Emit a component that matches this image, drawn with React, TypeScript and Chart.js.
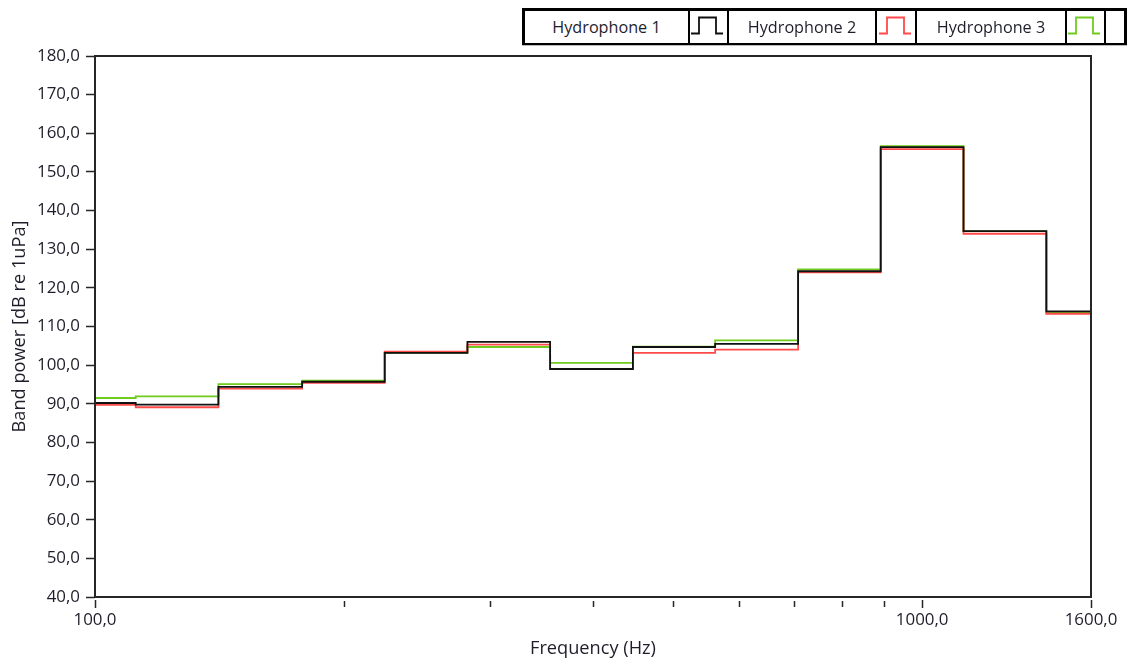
import React, { useEffect, useRef } from "react";
import { Chart, registerables } from "chart.js";

Chart.register(...registerables);

// Third-octave band centres (Hz) and band edges (Hz) as drawn on the chart
const bandCenters = [100, 125, 160, 200, 250, 315, 400, 500, 630, 800, 1000, 1250, 1600];
const bandStarts = [100, 112, 141, 178, 224, 282, 355, 447, 562, 708, 891, 1122, 1413];
const axisEnd = 1600;

// Band power (dB re 1uPa)
const hydrophone1 = [90.2, 89.8, 94.4, 95.7, 103.2, 106.0, 99.0, 104.7, 105.5, 124.3, 156.4, 134.7, 113.9];
const hydrophone2 = [89.7, 89.1, 93.9, 95.4, 103.5, 105.3, 99.0, 103.2, 104.0, 124.0, 155.9, 134.0, 113.3];
const hydrophone3 = [91.5, 91.9, 95.1, 96.0, 103.2, 104.7, 100.6, 104.8, 106.4, 124.8, 156.7, 134.7, 113.6];

const seriesNames = ["Hydrophone 1", "Hydrophone 2", "Hydrophone 3"];
const seriesColors = ["#111111", "#ff4a4a", "#6fcc1e"];

const xLabelTicks = [100, 1000, 1600];
const xMinorTicks = [200, 300, 400, 500, 600, 700, 800, 900];
const yMin = 40;
const yMax = 180;
const yStep = 10;

const FONT = "'Open Sans', 'Liberation Sans', sans-serif";
const TEXT = "#1e1e2a";

const fmt = (v: number) => Number(v).toFixed(1).replace(".", ",");

function stepPoints(values: number[]) {
  const pts = bandStarts.map((x, i) => ({ x, y: values[i] }));
  pts.push({ x: axisEnd, y: values[values.length - 1] });
  return pts;
}

const framePlugin = {
  id: "frameAndTicks",
  afterDraw(chart: any) {
    const { ctx, chartArea, scales } = chart;
    const xs = scales.x;
    ctx.save();
    ctx.strokeStyle = "#262626";
    ctx.lineWidth = 2;
    ctx.strokeRect(chartArea.left, chartArea.top, chartArea.right - chartArea.left, chartArea.bottom - chartArea.top);
    ctx.lineWidth = 1.5;
    ctx.strokeStyle = "#262626";
    const b = chartArea.bottom;
    xLabelTicks.forEach((v) => {
      const px = Math.round(xs.getPixelForValue(v)) + 0.5;
      ctx.beginPath();
      ctx.moveTo(px, b + 3);
      ctx.lineTo(px, b + 11);
      ctx.stroke();
    });
    xMinorTicks.forEach((v) => {
      const px = Math.round(xs.getPixelForValue(v)) + 0.5;
      ctx.beginPath();
      ctx.moveTo(px, b + 4);
      ctx.lineTo(px, b + 10);
      ctx.stroke();
    });
    ctx.restore();
  },
};

function StepIcon({ color }: { color: string }) {
  return (
    <svg width="37" height="32" style={{ display: "block" }}>
      <polyline
        points="1,22.5 9,22.5 9,6.5 26,6.5 26,22.5 33,22.5"
        fill="none"
        stroke={color}
        strokeWidth="1.8"
      />
    </svg>
  );
}

function Legend() {
  const cells = [
    { type: "t", w: 163, i: 0 },
    { type: "i", w: 37, i: 0 },
    { type: "t", w: 146, i: 1 },
    { type: "i", w: 38, i: 1 },
    { type: "t", w: 148, i: 2 },
    { type: "i", w: 37, i: 2 },
    { type: "e", w: 18, i: 0 },
  ];
  return (
    <div
      style={{
        position: "absolute",
        left: 522,
        top: 8,
        width: 605,
        height: 37,
        background: "#000",
        boxSizing: "border-box",
        padding: "3px 3px 2px 3px",
        display: "flex",
        gap: 2,
        boxShadow: "0 1px 0 #bbb",
      }}
    >
      {cells.map((c, k) => (
        <div
          key={k}
          style={{
            width: c.w,
            height: 32,
            background: "#fff",
            display: "flex",
            alignItems: "center",
            justifyContent: "center",
            fontFamily: FONT,
            fontSize: 16.2,
            color: TEXT,
            whiteSpace: "nowrap",
            overflow: "hidden",
          }}
        >
          {c.type === "t" ? seriesNames[c.i] : c.type === "i" ? <StepIcon color={seriesColors[c.i]} /> : null}
        </div>
      ))}
    </div>
  );
}

export default function App() {
  const canvasRef = useRef<HTMLCanvasElement | null>(null);

  useEffect(() => {
    if (!canvasRef.current) return;
    const allSeries = [hydrophone1, hydrophone2, hydrophone3];
    const chart = new Chart(canvasRef.current, {
      type: "line",
      data: {
        datasets: allSeries.map((vals, i) => ({
          label: seriesNames[i],
          data: stepPoints(vals),
          borderColor: seriesColors[i],
          backgroundColor: seriesColors[i],
          borderWidth: 1.8,
          pointRadius: 0,
          stepped: "before" as const,
          fill: false,
        })),
      },
      options: {
        responsive: false,
        animation: false,
        events: [],
        layout: { padding: { top: 56, right: 36, left: 0, bottom: 0 } },
        plugins: {
          legend: { display: false },
          tooltip: { enabled: false },
        },
        scales: {
          x: {
            type: "logarithmic",
            min: 100,
            max: axisEnd,
            afterBuildTicks: (s: any) => {
              s.ticks = xLabelTicks.map((v) => ({ value: v }));
            },
            afterFit: (s: any) => {
              s.height = 64;
              s.paddingLeft = 0;
              s.paddingRight = 0;
            },
            grid: { display: false, drawTicks: false },
            border: { display: false },
            ticks: {
              autoSkip: false,
              maxRotation: 0,
              padding: 13,
              color: TEXT,
              font: { family: FONT, size: 16.9 },
              callback: (v: any) => fmt(v),
            },
            title: {
              display: true,
              text: "Frequency (Hz)",
              color: TEXT,
              font: { family: FONT, size: 18.2 },
              padding: { top: 0, bottom: 1.5 },
            },
          },
          y: {
            min: yMin,
            max: yMax,
            afterFit: (s: any) => {
              s.width = 95;
              s.paddingTop = 0;
              s.paddingBottom = 0;
            },
            grid: {
              display: true,
              drawOnChartArea: false,
              drawTicks: true,
              tickLength: 9,
              tickColor: "#262626",
              tickWidth: 1.5,
              color: "#262626",
            },
            border: { display: false },
            ticks: {
              stepSize: yStep,
              padding: 6,
              color: TEXT,
              font: { family: FONT, size: 16.9 },
              callback: (v: any) => fmt(v),
            },
            title: {
              display: true,
              text: "Band power [dB re 1uPa]",
              color: TEXT,
              font: { family: FONT, size: 18.2 },
              padding: { top: 9, bottom: 0 },
            },
          },
        },
      },
      plugins: [framePlugin],
    });
    return () => chart.destroy();
  }, []);

  return (
    <div style={{ position: "fixed", left: 0, top: 0, width: 1127, height: 661, background: "#fff" }}>
      <canvas ref={canvasRef} width={1127} height={661} style={{ width: 1127, height: 661, display: "block" }} />
      <Legend />
    </div>
  );
}
